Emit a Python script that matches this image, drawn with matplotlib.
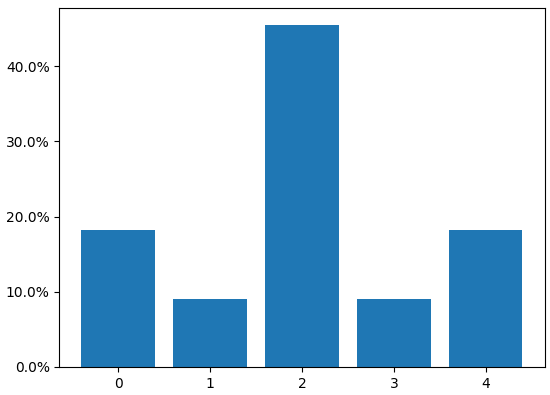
import matplotlib
matplotlib.use("Agg")
import matplotlib.pyplot as plt
from matplotlib.ticker import PercentFormatter

# --- data ---
categories = [0, 1, 2, 3, 4]
shares = [0.182, 0.091, 0.455, 0.091, 0.182]

fig, ax = plt.subplots(figsize=(5.5, 3.95), dpi=100)
ax.bar(categories, shares, color="#1f77b4")
ax.yaxis.set_major_formatter(PercentFormatter(xmax=1.0, decimals=1))
ax.set_xticks(categories)

fig.subplots_adjust(left=0.108, right=0.99, top=0.98, bottom=0.071)
fig.savefig("out.png", dpi=100)
